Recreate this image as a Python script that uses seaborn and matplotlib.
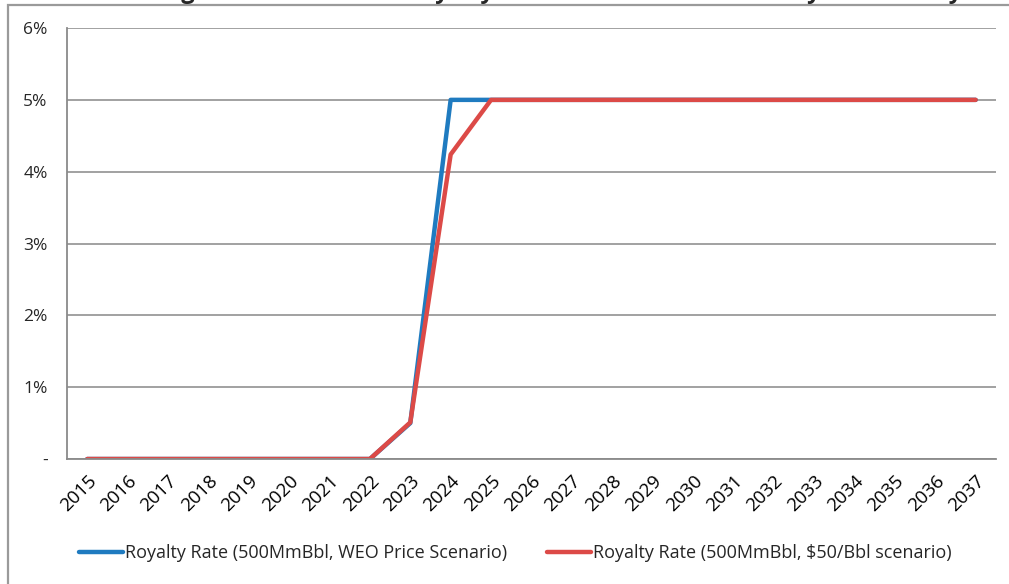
import numpy as np
import pandas as pd
import matplotlib
matplotlib.use("Agg")
import matplotlib.pyplot as plt
import seaborn as sns
from matplotlib.ticker import FixedLocator, FuncFormatter

# %%
years = [str(y) for y in range(2015, 2038)]
weo_rate = [0, 0, 0, 0, 0, 0, 0, 0, 0.005, 0.05, 0.05, 0.05, 0.05, 0.05, 0.05,
            0.05, 0.05, 0.05, 0.05, 0.05, 0.05, 0.05, 0.05]
usd50_rate = [0, 0, 0, 0, 0, 0, 0, 0, 0.0051, 0.0424, 0.05, 0.05, 0.05, 0.05, 0.05,
              0.05, 0.05, 0.05, 0.05, 0.05, 0.05, 0.05, 0.05]
series_names = ["Royalty Rate (500MmBbl, WEO Price Scenario)",
                "Royalty Rate (500MmBbl, $50/Bbl scenario)"]
y_ticks = [0, 0.01, 0.02, 0.03, 0.04, 0.05, 0.06]

df = pd.DataFrame({
    "idx": list(range(len(years))) * 2,
    "rate": weo_rate + usd50_rate,
    "series": [series_names[0]] * len(years) + [series_names[1]] * len(years),
})

# %%
sns.set_style("white")
plt.rcParams["font.family"] = ["Open Sans", "DejaVu Sans"]

fig = plt.figure(figsize=(10.09, 5.84), dpi=100)
ax = fig.add_axes([0.0664, 0.214, 0.9206, 0.738])

sns.lineplot(data=df, x="idx", y="rate", hue="series",
             palette=["#1F7BC0", "#DC4A47"], linewidth=3.2, ax=ax,
             legend=True)

ax.set_xlim(-0.5, len(years) - 0.5)
ax.set_ylim(0, 0.06)
ax.yaxis.set_major_locator(FixedLocator(y_ticks))
ax.yaxis.set_major_formatter(FuncFormatter(lambda v, p: "-" if v == 0 else f"{v*100:.0f}%"))
ax.grid(axis="y", color="#9a9a9a", linewidth=1.3)
ax.set_axisbelow(True)

# year labels at category centres, tick marks at boundaries
ax.set_xticks(range(len(years)))
ax.set_xticklabels(years, rotation=45, ha="right", rotation_mode="anchor")
ax.set_xticks(np.arange(-0.5, len(years)), minor=True)
ax.tick_params(axis="x", which="major", length=0, pad=9, labelsize=13.5, colors="black")
ax.tick_params(axis="x", which="minor", length=5, width=1.3, color="#8a8a8a", direction="out")
ax.tick_params(axis="y", length=5, width=1.3, color="#8a8a8a", labelsize=12.5, pad=9)
ax.set_xlabel("")
ax.set_ylabel("")

for s in ["top", "right"]:
    ax.spines[s].set_visible(False)
for s in ["left", "bottom"]:
    ax.spines[s].set_color("#8a8a8a")
    ax.spines[s].set_linewidth(1.3)

ax.legend(loc="center", bbox_to_anchor=(0.483, -0.218), ncol=2, frameon=False,
          fontsize=13, handlelength=2.4, handletextpad=0.15, columnspacing=2.2)

# outer chart border and clipped title
fig.add_artist(plt.Rectangle((0.008, -0.05), 1.05, 1.041, transform=fig.transFigure,
                             fill=False, edgecolor="#9a9a9a", linewidth=1.6))
fig.text(0.16, 1.004, "Figure 14: Estimated Royalty Rates for Oil Sands Mine by Scenario by Year",
         fontsize=17, fontweight="bold", va="baseline", ha="left")

fig.savefig("out.png", dpi=100)
